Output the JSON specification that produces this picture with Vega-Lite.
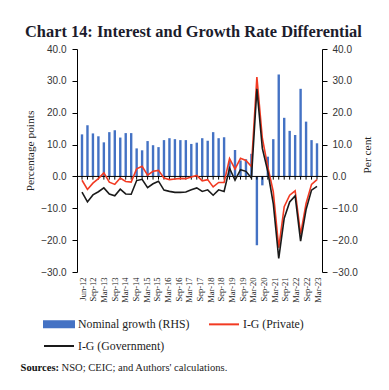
{
  "$schema": "https://vega.github.io/schema/vega-lite/v6.json",
  "width": 245,
  "height": 223,
  "autosize": "none",
  "padding": {"left": 77, "top": 49, "right": 67, "bottom": 118},
  "background": "white",
  "config": {"view": {"stroke": null}, "axis": {"grid": false, "labelOverlap": false, "labelBound": false}, "legend": {"padding": 0}},
  "title": {"text": "Chart 14: Interest and Growth Rate Differential", "font": "Liberation Serif", "fontSize": 16.4, "fontWeight": "bold", "color": "#1c1c2c", "anchor": "start", "frame": "group", "dx": -52, "dy": 6, "offset": 10},
  "data": {"values": [
    {"q": 0, "date": "Jun-12", "nominal": 13.2, "private": -1.2, "govt": -4.9},
    {"q": 1, "date": "Sep-12", "nominal": 16.1, "private": -4.1, "govt": -8.0},
    {"q": 2, "date": "Dec-12", "nominal": 13.5, "private": -2.1, "govt": -5.8},
    {"q": 3, "date": "Mar-13", "nominal": 12.6, "private": -0.7, "govt": -4.8},
    {"q": 4, "date": "Jun-13", "nominal": 10.7, "private": 1.1, "govt": -3.6},
    {"q": 5, "date": "Sep-13", "nominal": 13.9, "private": -1.8, "govt": -5.5},
    {"q": 6, "date": "Dec-13", "nominal": 14.5, "private": -2.5, "govt": -6.1},
    {"q": 7, "date": "Mar-14", "nominal": 12.2, "private": -0.5, "govt": -4.0},
    {"q": 8, "date": "Jun-14", "nominal": 13.6, "private": -1.6, "govt": -5.5},
    {"q": 9, "date": "Sep-14", "nominal": 13.6, "private": -1.8, "govt": -5.6},
    {"q": 10, "date": "Dec-14", "nominal": 8.8, "private": 2.4, "govt": -1.3},
    {"q": 11, "date": "Mar-15", "nominal": 8.2, "private": 3.2, "govt": -0.9},
    {"q": 12, "date": "Jun-15", "nominal": 11.1, "private": 0.4, "govt": -3.5},
    {"q": 13, "date": "Sep-15", "nominal": 9.8, "private": 1.6, "govt": -2.3},
    {"q": 14, "date": "Dec-15", "nominal": 9.2, "private": 1.9, "govt": -1.5},
    {"q": 15, "date": "Mar-16", "nominal": 11.4, "private": -0.5, "govt": -4.3},
    {"q": 16, "date": "Jun-16", "nominal": 12.0, "private": -1.0, "govt": -4.7},
    {"q": 17, "date": "Sep-16", "nominal": 11.7, "private": -0.8, "govt": -5.0},
    {"q": 18, "date": "Dec-16", "nominal": 11.4, "private": -0.6, "govt": -5.0},
    {"q": 19, "date": "Mar-17", "nominal": 11.4, "private": -0.7, "govt": -4.9},
    {"q": 20, "date": "Jun-17", "nominal": 10.2, "private": -0.2, "govt": -4.2},
    {"q": 21, "date": "Sep-17", "nominal": 10.6, "private": 0.3, "govt": -3.6},
    {"q": 22, "date": "Dec-17", "nominal": 12.0, "private": -1.4, "govt": -4.7},
    {"q": 23, "date": "Mar-18", "nominal": 11.2, "private": -1.0, "govt": -4.2},
    {"q": 24, "date": "Jun-18", "nominal": 13.9, "private": -3.3, "govt": -5.9},
    {"q": 25, "date": "Sep-18", "nominal": 12.0, "private": -1.9, "govt": -4.2},
    {"q": 26, "date": "Dec-18", "nominal": 12.3, "private": -1.9, "govt": -4.7},
    {"q": 27, "date": "Mar-19", "nominal": 4.8, "private": 5.6, "govt": 2.6},
    {"q": 28, "date": "Jun-19", "nominal": 8.3, "private": 2.3, "govt": -1.2},
    {"q": 29, "date": "Sep-19", "nominal": 5.0, "private": 5.7, "govt": 2.1},
    {"q": 30, "date": "Dec-19", "nominal": 5.4, "private": 5.0, "govt": 1.6},
    {"q": 31, "date": "Mar-20", "nominal": 7.1, "private": 3.1, "govt": -0.5},
    {"q": 32, "date": "Jun-20", "nominal": -21.6, "private": 31.2, "govt": 27.5},
    {"q": 33, "date": "Sep-20", "nominal": -2.8, "private": 12.0, "govt": 8.8},
    {"q": 34, "date": "Dec-20", "nominal": 6.2, "private": 3.0, "govt": 1.5},
    {"q": 35, "date": "Mar-21", "nominal": 11.7, "private": -4.8, "govt": -8.5},
    {"q": 36, "date": "Jun-21", "nominal": 32.0, "private": -22.4, "govt": -25.7},
    {"q": 37, "date": "Sep-21", "nominal": 18.4, "private": -9.5, "govt": -13.1},
    {"q": 38, "date": "Dec-21", "nominal": 14.3, "private": -5.9, "govt": -8.0},
    {"q": 39, "date": "Mar-22", "nominal": 13.0, "private": -4.5, "govt": -6.1},
    {"q": 40, "date": "Jun-22", "nominal": 27.5, "private": -18.2, "govt": -20.3},
    {"q": 41, "date": "Sep-22", "nominal": 17.2, "private": -8.5, "govt": -10.4},
    {"q": 42, "date": "Dec-22", "nominal": 11.4, "private": -2.5, "govt": -4.3},
    {"q": 43, "date": "Mar-23", "nominal": 10.4, "private": -1.0, "govt": -3.1}
  ]},
  "layer": [
    {
      "mark": {"type": "bar", "size": 2.4},
      "encoding": {
        "x": {"field": "q", "type": "quantitative", "scale": {"domain": [0, 43], "nice": false, "zero": false},
          "axis": {"orient": "top", "domain": false, "ticks": false, "labels": false, "title": "Sources:", "titleFont": "Liberation Serif", "titleFontSize": 10.6, "titleFontWeight": "bold", "titleColor": "#111", "titleX": -57, "titleY": 321, "titleAlign": "left", "titleAngle": 0, "titleBaseline": "alphabetic"}},
        "y": {"field": "nominal", "type": "quantitative", "scale": {"domain": [-30, 40], "nice": false},
          "axis": {"orient": "right", "values": [-30, -20, -10, 0, 10, 20, 30, 40], "format": ".1f", "labelOverlap": false, "labelFont": "Liberation Sans", "labelFontSize": 10, "labelColor": "#333", "domainColor": "#000", "tickColor": "#000", "tickSize": 5, "labelPadding": 5, "title": "Per cent", "titleFont": "Liberation Serif", "titleFontSize": 11.4, "titleFontWeight": "normal", "titleColor": "#222", "titleAngle": 270, "titleX": 48, "titleY": 105.5, "titleAlign": "center", "titleBaseline": "alphabetic"}},
        "y2": {"datum": 0},
        "color": {"datum": "Nominal growth (RHS)",
          "scale": {"domain": ["Nominal growth (RHS)", "I-G (Private)", "I-G (Government)"], "range": ["#4472C4", "#f23a22", "#1a1a1a"]},
          "legend": {"orient": "none", "legendX": -26.5, "legendY": 266.5, "direction": "horizontal", "columns": 2, "title": null,
            "symbolSize": 225, "labelFont": "Liberation Serif", "labelFontSize": 11.8, "labelColor": "#222", "labelOffset": 10.5,
            "columnPadding": 15, "rowPadding": 6, "labelLimit": 300,
            "encode": {"symbols": {"update": {
              "shape": {"signal": "datum.value === 'Nominal growth (RHS)' ? 'M-2,-0.4H2V0.4H-2Z' : 'M-2,0H2'"},
              "fill": {"signal": "datum.value === 'Nominal growth (RHS)' ? '#4472C4' : 'transparent'"},
              "stroke": {"signal": "datum.value === 'Nominal growth (RHS)' ? 'transparent' : (datum.value === 'I-G (Private)' ? '#f23a22' : '#1a1a1a')"},
              "strokeWidth": {"value": 2},
              "opacity": {"value": 1},
              "fillOpacity": {"value": 1}
            }}}}
        }
      }
    },
    {
      "data": {"values": [{"z": 0}]},
      "mark": {"type": "rule", "color": "#000", "strokeWidth": 1},
      "encoding": {"y": {"field": "z", "type": "quantitative", "axis": null}}
    },
    {
      "mark": {"type": "rule", "color": "#000", "strokeWidth": 1},
      "encoding": {
        "x": {"field": "q", "type": "quantitative",
          "axis": {"orient": "bottom", "values": [0, 1.9545, 3.9091, 5.8636, 7.8182, 9.7727, 11.7273, 13.6818, 15.6364, 17.5909, 19.5455, 21.5, 23.4545, 25.4091, 27.3636, 29.3182, 31.2727, 33.2273, 35.1818, 37.1364, 39.0909, 41.0455, 43],
            "labelExpr": "['Jun-12','Sep-12','Mar-13','Sep-13','Mar-14','Sep-14','Mar-15','Sep-15','Mar-16','Sep-16','Mar-17','Sep-17','Mar-18','Sep-18','Mar-19','Sep-19','Mar-20','Sep-20','Mar-21','Sep-21','Mar-22','Sep-22','Mar-23'][round(datum.value*22/43)]",
            "labelOverlap": false, "labelAngle": -90, "labelFont": "Liberation Serif", "labelFontSize": 8.5, "labelColor": "#222", "domain": false, "ticks": false, "labelPadding": 5, "labelFlush": false,
            "title": "NSO; CEIC; and Authors' calculations.", "titleFont": "Liberation Serif", "titleFontSize": 10.6, "titleFontWeight": "normal", "titleColor": "#222", "titleX": -16, "titleY": 98, "titleAlign": "left", "titleAngle": 0, "titleBaseline": "alphabetic"}},
        "y": {"datum": 0, "type": "quantitative", "axis": null},
        "y2": {"datum": -1.0}
      }
    },
    {
      "mark": {"type": "line", "strokeWidth": 1.6},
      "encoding": {
        "x": {"field": "q", "type": "quantitative", "axis": null},
        "y": {"field": "private", "type": "quantitative",
          "axis": {"orient": "left", "values": [-30, -20, -10, 0, 10, 20, 30, 40], "format": ".1f", "labelOverlap": false, "labelFont": "Liberation Sans", "labelFontSize": 10, "labelColor": "#333", "domainColor": "#000", "tickColor": "#000", "tickSize": 5, "labelPadding": 6, "title": "Percentage points", "titleFont": "Liberation Serif", "titleFontSize": 11.4, "titleFontWeight": "normal", "titleColor": "#222", "titleAngle": 270, "titleX": -44, "titleY": 101.5, "titleAlign": "center", "titleBaseline": "alphabetic"}},
        "color": {"datum": "I-G (Private)"}
      }
    },
    {
      "mark": {"type": "line", "strokeWidth": 1.6},
      "encoding": {
        "x": {"field": "q", "type": "quantitative", "axis": null},
        "y": {"field": "govt", "type": "quantitative", "axis": null},
        "color": {"datum": "I-G (Government)"}
      }
    }
  ],
  "resolve": {"axis": {"x": "independent", "y": "independent"}}
}
